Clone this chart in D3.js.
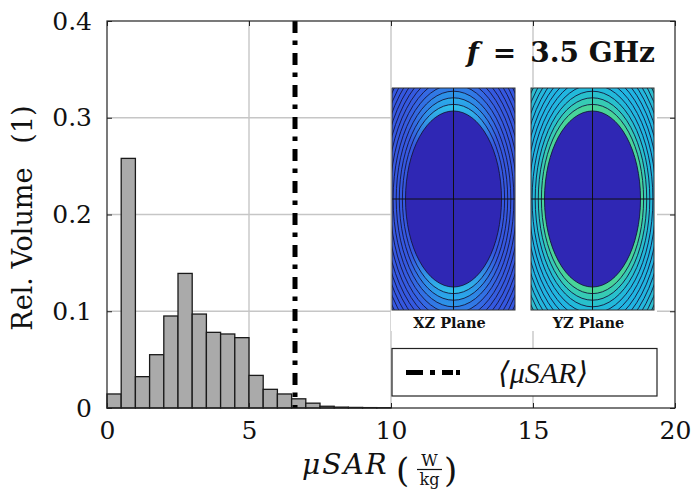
<!DOCTYPE html>
<html>
<head>
<meta charset="utf-8">
<script src="https://cdn.jsdelivr.net/npm/d3@7"></script>
<style>
  html, body { margin: 0; padding: 0; background: #fff; }
  svg { display: block; }
</style>
</head>
<body>
<svg id="chart" width="691" height="491"></svg>
<script>
// ---------------- data ----------------
const binStarts = [0, 0.5, 1, 1.5, 2, 2.5, 3, 3.5, 4, 4.5, 5, 5.5, 6, 6.5, 7, 7.5, 8, 8.5, 9, 9.5];
const binWidth = 0.5;
const relVolume = [0.0145, 0.258, 0.0324, 0.0551, 0.0951, 0.1391, 0.0971, 0.0782, 0.0765, 0.0727,
                   0.0337, 0.0193, 0.0145, 0.0095, 0.005, 0.0018, 0.0009, 0.0006, 0.0004, 0.0003];
const meanSAR = 6.62;
const xTicks = [0, 5, 10, 15, 20];
const xTickLabels = ["0", "5", "10", "15", "20"];
const yTicks = [0, 0.1, 0.2, 0.3, 0.4];
const yTickLabels = ["0", "0.1", "0.2", "0.3", "0.4"];
const planeNames = ["XZ Plane", "YZ Plane"];
const contourLevels = [1, 2, 3, 4, 5, 6, 7, 8, 9, 10, 11, 12, 13];
// band colours (inner -> outer) of the two inset field maps
const xzBandColors = ["#2fc4ea", "#2aaeea", "#2c96e8", "#3080e6", "#3470e4", "#3564e2", "#355ce0", "#3558e0", "#3558e0", "#3558e0", "#3558e0", "#3558e0", "#3558e0"];
const yzBandColors = ["#48d49a", "#36cbb4", "#28c0cc", "#22b9da", "#21b6e0", "#21b5e2", "#21b5e2", "#22b6e0", "#24b8dc", "#28bbd6", "#2ebece", "#38c2c0", "#46c6ae"];

// ---------------- layout ----------------
const svg = d3.select("#chart");
const pL = 107, pR = 675, pT = 21, pB = 408;
const x = d3.scaleLinear().domain([0, 20]).range([pL, pR]);
const y = d3.scaleLinear().domain([0, 0.4]).range([pB, pT]);
const serif = "'DejaVu Serif', 'Liberation Serif', serif";

// grid
const grid = svg.append("g");
grid.selectAll("line.gx").data(xTicks.slice(1, -1)).join("line")
  .attr("x1", d => x(d)).attr("x2", d => x(d)).attr("y1", pT).attr("y2", pB)
  .attr("stroke", "#c6c6c6").attr("stroke-width", 1.4);
grid.selectAll("line.gy").data(yTicks.slice(1, -1)).join("line")
  .attr("y1", d => y(d)).attr("y2", d => y(d)).attr("x1", pL).attr("x2", pR)
  .attr("stroke", "#c6c6c6").attr("stroke-width", 1.4);

// bars
svg.append("g").selectAll("rect").data(binStarts).join("rect")
  .attr("x", d => x(d))
  .attr("width", d => x(d + binWidth) - x(d))
  .attr("y", (d, i) => y(relVolume[i]))
  .attr("height", (d, i) => y(0) - y(relVolume[i]))
  .attr("fill", "#aaaaaa")
  .attr("stroke", "#1a1a1a")
  .attr("stroke-width", 1.3);

// mean line
svg.append("line")
  .attr("x1", x(meanSAR)).attr("x2", x(meanSAR))
  .attr("y1", y(0.4)).attr("y2", y(0))
  .attr("stroke", "#000").attr("stroke-width", 5)
  .attr("stroke-dasharray", "12,7.5,4.5,8");

// axes
const xAxis = d3.axisBottom(x).tickValues(xTicks).tickFormat((d, i) => xTickLabels[i]).tickSize(-5).tickPadding(13);
const yAxis = d3.axisLeft(y).tickValues(yTicks).tickFormat((d, i) => yTickLabels[i]).tickSize(-5).tickPadding(15);
const gx = svg.append("g").attr("transform", `translate(0,${pB})`).call(xAxis);
const gy = svg.append("g").attr("transform", `translate(${pL},0)`).call(yAxis);
[gx, gy].forEach(g => {
  g.select(".domain").remove();
  g.selectAll(".tick line").attr("stroke", "#222");
  g.selectAll(".tick text").attr("font-family", serif).attr("font-size", 25).attr("fill", "#111");
});
// mirrored ticks
svg.append("g").attr("transform", `translate(0,${pT})`)
  .call(d3.axisTop(x).tickValues(xTicks).tickSize(-5).tickFormat(""))
  .call(g => { g.select(".domain").remove(); g.selectAll("line").attr("stroke", "#222"); });
svg.append("g").attr("transform", `translate(${pR},0)`)
  .call(d3.axisRight(y).tickValues(yTicks).tickSize(-5).tickFormat(""))
  .call(g => { g.select(".domain").remove(); g.selectAll("line").attr("stroke", "#222"); });

// frame
svg.append("rect").attr("x", pL).attr("y", pT).attr("width", pR - pL).attr("height", pB - pT)
  .attr("fill", "none").attr("stroke", "#222").attr("stroke-width", 1.2);

// axis labels
svg.append("text")
  .attr("transform", `translate(32,218) rotate(-90)`)
  .attr("text-anchor", "middle")
  .attr("font-family", serif).attr("font-size", 27).attr("fill", "#111")
  .call(t => {
    t.append("tspan").text("Rel. Volume");
    t.append("tspan").attr("dx", 24).text("(1)");
  });

const xl = svg.append("g").attr("font-family", serif).attr("fill", "#111");
xl.append("text").attr("x", 302).attr("y", 474).attr("font-size", 28).attr("font-style", "italic")
  .attr("letter-spacing", 2).text("μSAR");
xl.append("text").attr("x", 396).attr("y", 482).attr("font-size", 34).attr("font-weight", 300).text("(");
xl.append("text").attr("x", 429.5).attr("y", 466).attr("font-size", 16).attr("text-anchor", "middle").text("W");
xl.append("line").attr("x1", 417).attr("x2", 442).attr("y1", 469.5).attr("y2", 469.5).attr("stroke", "#111").attr("stroke-width", 1.2);
xl.append("text").attr("x", 429.5).attr("y", 485).attr("font-size", 16).attr("text-anchor", "middle").text("kg");
xl.append("text").attr("x", 444).attr("y", 482).attr("font-size", 34).attr("font-weight", 300).text(")");

// ---------------- inset ----------------
svg.append("rect").attr("x", 391).attr("y", 87).attr("width", 266).attr("height", 244).attr("fill", "#fff");

svg.append("text").attr("x", 655).attr("y", 62).attr("text-anchor", "end")
  .attr("font-family", serif).attr("font-size", 28).attr("font-weight", "bold").attr("fill", "#111")
  .call(t => {
    t.append("tspan").attr("font-style", "italic").text("f");
    t.append("tspan").attr("dx", 14).text("=");
    t.append("tspan").attr("dx", 14).text("3.5 GHz");
  });

const panels = [
  { name: planeNames[0], x0: 392, bands: xzBandColors, bg: "#3558e0", glow: true },
  { name: planeNames[1], x0: 531, bands: yzBandColors, bg: "#7ccf6c", glow: false }
];
const pw = 123, ph = 222, py = 88, rx0 = 48, ry0 = 88;
const defs = svg.append("defs");
panels.forEach((p, pi) => {
  const cx = p.x0 + pw / 2, cy = py + ph / 2;
  defs.append("clipPath").attr("id", "clip" + pi)
    .append("rect").attr("x", p.x0).attr("y", py).attr("width", pw).attr("height", ph);
  const g = svg.append("g").attr("clip-path", `url(#clip${pi})`);
  g.append("rect").attr("x", p.x0).attr("y", py).attr("width", pw).attr("height", ph).attr("fill", p.bg);
  const levels = contourLevels.slice().reverse();
  levels.forEach(k => {
    let fill = p.bands[k - 1];
    if (p.glow) {
      const gid = `grad${pi}_${k}`;
      const gr = defs.append("linearGradient").attr("id", gid).attr("x1", 0).attr("x2", 0).attr("y1", 0).attr("y2", 1);
      gr.append("stop").attr("offset", 0).attr("stop-color", fill);
      gr.append("stop").attr("offset", 0.22).attr("stop-color", "#3558e0");
      gr.append("stop").attr("offset", 0.78).attr("stop-color", "#3558e0");
      gr.append("stop").attr("offset", 1).attr("stop-color", fill);
      fill = `url(#${gid})`;
    }
    g.append("ellipse").attr("cx", cx).attr("cy", cy)
      .attr("rx", rx0 + 3.1 * k).attr("ry", ry0 + 6.6 * k)
      .attr("fill", fill).attr("stroke", "#15153a").attr("stroke-width", 0.9);
  });
  g.append("ellipse").attr("cx", cx).attr("cy", cy).attr("rx", rx0).attr("ry", ry0)
    .attr("fill", "#2f27b4").attr("stroke", "#15153a").attr("stroke-width", 0.9);
  g.append("line").attr("x1", cx).attr("x2", cx).attr("y1", py).attr("y2", py + ph).attr("stroke", "#111").attr("stroke-width", 1);
  g.append("line").attr("x1", p.x0).attr("x2", p.x0 + pw).attr("y1", cy).attr("y2", cy).attr("stroke", "#111").attr("stroke-width", 1);
  svg.append("rect").attr("x", p.x0).attr("y", py).attr("width", pw).attr("height", ph)
    .attr("fill", "none").attr("stroke", "#333").attr("stroke-width", 1);
  svg.append("text").attr("x", cx - 4).attr("y", 328).attr("text-anchor", "middle")
    .attr("font-family", serif).attr("font-size", 14.5).attr("font-weight", "bold").attr("fill", "#111")
    .text(p.name);
});

// legend
svg.append("rect").attr("x", 392).attr("y", 348.5).attr("width", 265).attr("height", 47.5)
  .attr("fill", "#fff").attr("stroke", "#222").attr("stroke-width", 1.2);
svg.append("line").attr("x1", 406).attr("x2", 460).attr("y1", 372.5).attr("y2", 372.5)
  .attr("stroke", "#000").attr("stroke-width", 5).attr("stroke-dasharray", "17,7,5,7,11,3,4,10");
svg.append("text").attr("x", 498).attr("y", 383)
  .attr("font-family", "'Liberation Serif', 'DejaVu Serif', serif").attr("font-size", 30)
  .attr("font-style", "italic").attr("fill", "#111").text("⟨μSAR⟩");
</script>
</body>
</html>
